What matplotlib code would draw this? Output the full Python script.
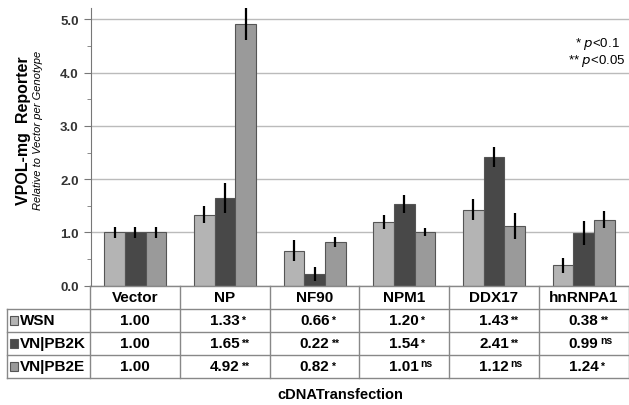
import matplotlib.pyplot as plt
from matplotlib.patches import Rectangle

plt.rcParams['font.family'] = ['Liberation Sans', 'DejaVu Sans']

# data
categories = ['Vector', 'NP', 'NF90', 'NPM1', 'DDX17', 'hnRNPA1']
series = ['WSN', 'VN|PB2K', 'VN|PB2E']
wsn = [1.00, 1.33, 0.66, 1.20, 1.43, 0.38]
pb2k = [1.00, 1.65, 0.22, 1.54, 2.41, 0.99]
pb2e = [1.00, 4.92, 0.82, 1.01, 1.12, 1.24]
wsn_err = [0.10, 0.16, 0.20, 0.13, 0.19, 0.14]
pb2k_err = [0.10, 0.28, 0.14, 0.17, 0.19, 0.23]
pb2e_err = [0.10, 0.30, 0.10, 0.08, 0.24, 0.16]
wsn_sig = ['', '*', '*', '*', '**', '**']
pb2k_sig = ['', '**', '**', '*', '**', 'ns']
pb2e_sig = ['', '**', '*', 'ns', 'ns', '*']

values = [wsn, pb2k, pb2e]
errors = [wsn_err, pb2k_err, pb2e_err]
sigs = [wsn_sig, pb2k_sig, pb2e_sig]
colors = ['#b4b4b4', '#484848', '#9a9a9a']

fig = plt.figure(figsize=(6.29, 4.06), dpi=100)
ax = fig.add_axes([90.5/629, 119.3/406, 538/629, 278/406])

n = len(categories)
w = 0.23
for i in range(3):
    xs = [j + (i - 1) * w for j in range(n)]
    ax.bar(xs, values[i], width=w, color=colors[i], edgecolor='#555555',
           linewidth=0.8, zorder=2)
    ax.errorbar(xs, values[i], yerr=errors[i], fmt='none', ecolor='black',
                elinewidth=1.6, capsize=0, zorder=3)

ax.set_xlim(-0.5, n - 0.5)
ax.set_ylim(0, 5.22)
ax.set_yticks([0, 1, 2, 3, 4, 5])
ax.set_yticklabels(['0.0', '1.0', '2.0', '3.0', '4.0', '5.0'],
                   fontsize=9.5, fontweight='bold', color='#333333')
ax.set_yticks([0.5, 1.5, 2.5, 3.5, 4.5], minor=True)
ax.tick_params(axis='y', which='major', length=5, color='#777777')
ax.tick_params(axis='y', which='minor', length=3, color='#777777')
ax.set_xticks([])
ax.grid(axis='y', color='#bbbbbb', linewidth=1, zorder=0)
for s in ['top', 'right', 'bottom']:
    ax.spines[s].set_visible(False)
ax.spines['left'].set_color('#777777')

# table below the axis
rh = 23 / 278
left = -0.5 - 84 / 89.7
lc = '#888888'
trans = ax.get_xaxis_transform()
ax.plot([-0.5, n - 0.5], [0, 0], color=lc, lw=1, transform=trans, clip_on=False)
for r in range(1, 5):
    ax.plot([left, n - 0.5], [-r * rh, -r * rh], color=lc, lw=1,
            transform=trans, clip_on=False)
for j in range(n + 1):
    ax.plot([j - 0.5, j - 0.5], [0, -4 * rh], color=lc, lw=1,
            transform=trans, clip_on=False)
ax.plot([left, left], [-rh, -4 * rh], color=lc, lw=1, transform=trans, clip_on=False)

for j, c in enumerate(categories):
    ax.text(j, -0.5 * rh, c, ha='center', va='center', fontsize=11,
            fontweight='bold', transform=trans)

for i in range(3):
    yc = -(i + 1.5) * rh
    ax.add_patch(Rectangle((left + 0.04, yc - 0.016), 0.09, 0.032,
                           facecolor=colors[i], edgecolor='#555555', lw=0.8,
                           transform=trans, clip_on=False))
    ax.text(left + 0.15, yc, series[i], ha='left', va='center', fontsize=11,
            fontweight='bold', transform=trans)
    for j in range(n):
        ax.text(j, yc, '%.2f' % values[i][j], ha='center', va='center',
                fontsize=11, fontweight='bold', transform=trans)
        sg = sigs[i][j]
        if sg:
            dy = 0.012 if sg == 'ns' else 0.0
            ax.text(j + 0.18, yc + dy, sg, ha='left', va='center',
                    fontsize=7.5, fontweight='bold', transform=trans)

# y label
fig.text(24/629, 1 - 131/406, 'VPOL-mg  Reporter', rotation=90, ha='center',
         va='center', fontsize=11.5, fontweight='bold')
fig.text(38/629, 1 - 130/406, 'Relative to Vector per Genotype', rotation=90,
         ha='center', va='center', fontsize=8, style='italic')

# p-value key
fig.text(597/629, 1 - 44/406, '* $\\it{p}$<0.1', ha='center', va='center', fontsize=9.5)
fig.text(597/629, 1 - 61/406, '** $\\it{p}$<0.05', ha='center', va='center', fontsize=9.5)

fig.text(340/629, 1 - 395/406, 'cDNATransfection', ha='center', va='center',
         fontsize=10.5, fontweight='bold')

fig.savefig('out.png', dpi=100)
